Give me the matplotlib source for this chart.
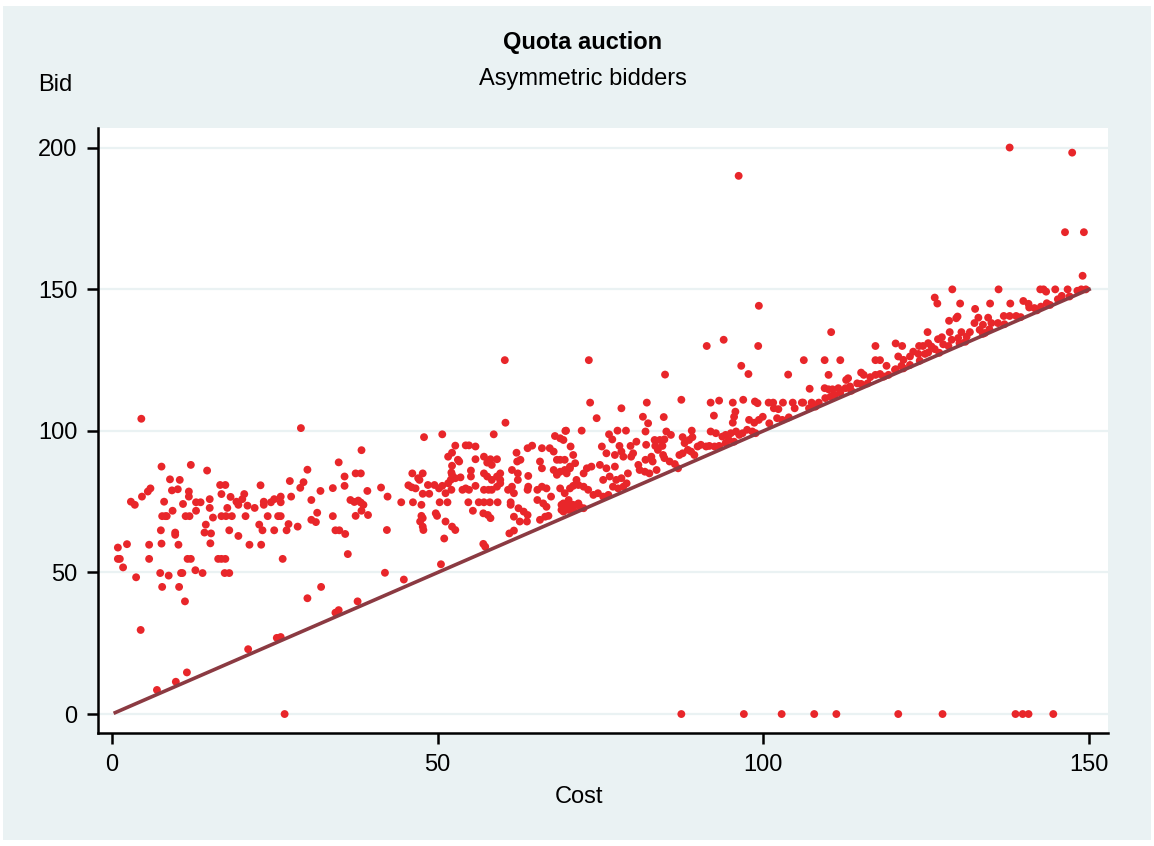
import matplotlib.pyplot as plt
from matplotlib.patches import Rectangle

plt.rcParams['font.family'] = ['Liberation Sans', 'DejaVu Sans']

# bids, grouped by region of the plot
left_pts = [
    (4.5,104.3),(29.0,101.0),(7.6,87.4),(12.1,88.0),(14.6,86.0),(8.9,82.9),(10.4,82.7),(9.2,79.0),
    (10.1,79.4),(11.8,78.6),(11.8,76.8),(5.9,79.7),(5.5,78.6),(4.6,76.8),(2.9,75.0),(3.5,73.9),
    (8.0,75.0),(12.9,74.8),(13.6,74.8),(10.9,74.2),(9.3,71.8),(12.9,71.8),(15.0,75.9),(15.0,72.8),
    (7.7,69.9),(8.2,69.9),(8.4,69.9),(11.3,69.9),(11.9,69.9),(15.5,69.4),(16.6,80.9),(17.4,80.9),
    (16.8,77.7),(18.2,76.7),(17.7,72.8),(19.1,75.0),(19.4,73.9),(20.0,75.9),(20.3,77.7),(20.8,73.6),
    (21.9,72.8),(22.8,80.8),(23.3,75.0),(23.3,73.9),(24.4,74.8),(24.9,75.9),(25.9,76.8),(25.9,74.8),
    (27.3,82.3),(27.5,76.8),(28.9,79.9),(29.4,81.9),(30.0,86.3),(30.6,75.6),(32.0,78.8),(16.8,69.9),
    (17.5,69.9),(18.4,69.9),(20.5,69.9),(23.9,69.9),(25.5,69.9),(25.9,69.9),(14.4,66.9),(14.2,64.1),
    (15.2,63.8),(15.1,60.3),(18.0,64.9),(19.4,62.9),(21.1,59.8),(22.9,59.8),(22.6,66.9),(23.1,64.9),
    (24.9,64.9),(26.8,64.9),(27.1,67.1),(28.5,66.2),(30.6,68.6),(31.3,67.8),(31.5,71.1),(33.9,79.8),
    (34.8,88.9),(33.9,69.9),(34.3,64.9),(34.9,64.9),(35.7,83.9),(35.7,80.6),(0.9,58.8),(2.3,60.0),
    (0.9,54.8),(1.2,54.8),(1.7,51.8),(3.7,48.3),(5.7,59.8),(5.7,54.8),(7.5,64.9),(7.6,60.2),
    (9.7,64.1),(9.7,63.3),(10.2,59.8),(7.4,49.8),(8.7,48.9),(10.6,49.8),(10.8,49.8),(7.7,44.9),
    (10.3,44.9),(11.2,39.8),(11.6,54.8),(12.1,54.8),(12.8,50.8),(13.9,49.8),(16.3,54.8),(16.8,54.8),
    (17.4,54.8),(17.3,49.8),(18.0,49.8),(26.2,54.8),(30.0,40.9),(32.1,44.9),(4.4,29.7),(6.9,8.5),
    (9.8,11.4),(11.5,14.7),(20.9,22.9),(25.3,26.9),(25.9,27.2),(34.3,35.8),(34.8,36.7),(35.8,63.6),
    (36.2,56.5),
]
mid_pts = [
    (38.3,93.2),(37.4,85.0),(38.2,85.0),(39.2,78.8),(36.6,75.6),(37.2,74.9),(37.8,75.4),(38.2,74.7),
    (38.6,73.9),(38.3,71.8),(37.4,70.0),(39.3,70.3),(41.3,80.0),(42.3,76.8),(42.2,65.0),(41.9,49.9),
    (44.8,47.5),(37.7,39.8),(50.5,52.9),(47.9,97.8),(50.7,98.8),(60.4,102.9),(58.6,98.8),(44.4,74.8),
    (46.1,85.0),(47.7,85.0),(47.0,83.3),(47.2,82.7),(45.5,80.8),(46.0,80.1),(46.6,79.7),(46.2,74.8),
    (47.5,73.9),(47.7,77.8),(48.5,80.9),(48.7,77.8),(47.5,70.0),(47.7,69.2),(47.3,68.0),(47.7,66.2),
    (47.8,65.0),(49.7,70.9),(49.9,70.0),(51.2,68.0),(52.2,66.2),(52.7,65.0),(51.0,62.0),(50.3,74.8),
    (51.5,74.8),(49.5,80.9),(50.2,79.7),(50.7,80.6),(51.2,78.0),(52.0,82.7),(52.2,84.5),(52.1,85.3),
    (52.7,83.3),(53.5,83.6),(51.6,90.9),(52.2,92.3),(52.7,94.8),(53.1,89.8),(53.3,89.2),(52.2,87.7),
    (51.6,81.5),(52.1,79.2),(53.8,79.2),(54.3,79.7),(54.8,79.2),(55.8,80.6),(54.3,94.9),(54.8,94.9),
    (55.8,94.5),(55.1,86.0),(55.1,83.9),(55.8,90.0),(57.1,90.9),(57.6,88.8),(58.1,90.0),(59.1,90.0),
    (58.3,88.0),(57.1,85.0),(57.6,83.9),(58.3,82.7),(59.1,83.9),(59.6,85.0),(59.6,82.7),(57.1,79.2),
    (57.8,79.2),(58.3,79.2),(59.1,80.3),(59.6,81.5),(54.7,74.8),(56.3,74.8),(57.1,74.8),(58.0,74.8),
    (59.2,74.8),(55.4,71.8),(57.0,70.9),(57.7,70.3),(58.1,69.2),(57.0,60.1),(57.3,59.1),(61.0,63.8),
    (61.7,64.8),(61.4,86.2),(62.2,89.2),(62.7,89.8),(62.1,92.3),(62.3,85.0),(62.3,82.7),(60.8,79.2),
    (61.4,80.3),(61.7,78.0),(61.2,73.9),(61.2,74.8),(62.4,72.7),(63.2,71.5),(61.7,69.7),(62.6,68.0),
    (63.7,68.0),(63.8,70.3),(63.8,79.2),(63.9,80.3),(63.9,84.1),(63.8,93.9),(64.5,94.8),(66.0,93.9),
    (65.7,89.2),(66.0,86.8),(65.3,79.2),(66.0,80.3),(66.7,79.7),(65.3,75.6),(66.2,74.4),(66.7,73.2),
    (67.4,76.8),(65.7,68.6),(66.5,69.7),(67.0,70.0),(67.2,93.9),(67.8,92.7),(68.0,98.2),(68.8,97.4),
    (69.3,96.8),(69.6,100.0),(68.3,89.8),(68.8,89.8),(67.8,86.2),(68.3,84.5),(68.8,85.6),(69.5,86.2),
    (70.3,87.4),(69.5,89.8),(70.4,94.5),(70.8,91.5),(68.8,79.7),(69.5,78.0),(70.3,79.7),(70.8,80.6),
    (69.0,73.9),(69.8,74.4),(70.7,73.2),(69.3,71.5),(70.1,72.1),(70.8,72.1),(60.3,125.0),
]
upper_pts = [
    (91.3,130.0),(99.2,130.0),(93.9,132.2),(73.2,125.0),(84.9,119.9),(96.6,123.0),(97.7,120.1),
    (103.8,119.9),(106.2,125.0),(73.4,110.0),(74.4,104.5),(78.2,108.0),(82.1,110.0),(81.5,105.0),
    (82.3,102.7),(84.7,104.9),(87.4,111.0),(91.9,110.0),(93.2,110.7),(95.3,110.0),(96.9,111.0),
    (98.7,110.4),(99.1,109.8),(100.8,110.0),(101.5,110.0),(103.0,110.0),(104.5,110.0),(105.9,110.0),
    (101.6,108.0),(102.3,107.7),(104.8,108.0),(92.4,105.4),(95.7,106.8),(95.5,105.0),(95.3,102.9),
    (97.8,103.9),(98.6,102.9),(99.3,103.9),(99.9,105.0),(100.9,102.7),(102.1,104.5),(102.9,103.9),
    (69.7,100.1),(72.1,100.1),(77.6,100.1),(78.9,100.1),(81.9,99.8),(76.3,98.8),(76.8,97.0),
    (80.5,96.2),(79.6,94.7),(75.2,94.5),(77.9,94.7),(78.2,92.7),(78.5,90.9),(82.0,95.1),(83.3,96.8),
    (84.1,96.8),(84.8,97.0),(85.1,99.8),(85.8,98.6),(87.6,97.8),(89.0,100.1),(89.1,97.8),(83.4,94.7),
    (84.5,94.7),(83.8,93.3),(84.6,91.5),(81.9,89.8),(82.8,90.9),(83.0,89.2),(80.8,88.0),(81.0,86.2),
    (81.8,85.6),(82.5,85.0),(83.6,86.2),(84.8,90.4),(85.6,89.2),(86.4,88.3),(86.9,86.8),(87.1,91.5),
    (87.6,92.1),(88.4,93.3),(88.9,92.7),(89.4,91.5),(89.9,94.5),(90.4,95.1),(91.2,94.5),(91.7,94.7),
    (92.5,94.5),(93.2,94.7),(94.2,95.7),(93.7,98.0),(94.2,98.6),(95.0,99.2),(95.8,99.8),(91.9,99.8),
    (92.7,99.2),(96.3,98.6),(96.8,99.2),(97.5,100.4),(98.3,99.8),(98.8,99.2),(94.7,96.8),(95.5,96.2),
    (88.6,96.8),(87.9,95.7),(74.9,88.0),(75.9,86.8),(77.2,87.4),(75.4,82.7),(76.4,83.9),(77.4,82.7),
    (78.2,83.3),(76.9,80.3),(77.7,79.7),(78.5,80.3),(79.0,81.5),(79.2,85.0),(72.4,80.3),(73.1,79.2),
    (73.9,77.4),(74.6,78.0),(73.6,87.4),(72.9,86.8),(72.4,85.0),(71.3,82.7),(71.6,80.9),(75.4,76.8),
    (76.2,77.4),(69.8,85.0),(70.3,86.8),(71.1,88.6),(69.3,74.4),(70.1,75.6),(70.8,73.9),(71.6,74.4),
    (69.0,72.1),(69.8,72.7),(71.8,73.2),(72.4,72.7),(79.7,90.9),(80.0,92.1),(77.2,91.5),(75.9,92.1),
    (96.2,190.1),(99.3,144.2),
]
right_pts = [
    (137.8,200.1),(147.4,198.3),(146.3,170.2),(149.2,170.2),(149.0,154.8),(110.4,134.9),(126.3,147.1),
    (126.7,145.0),(129.0,150.0),(136.1,150.0),(142.5,150.0),(143.0,150.0),(143.4,149.2),(144.8,150.0),
    (146.7,150.0),(148.2,149.5),(148.8,150.0),(130.2,145.0),(132.5,143.1),(134.8,145.0),(137.9,145.0),
    (139.9,145.9),(140.7,144.9),(140.8,143.6),(143.5,145.1),(145.2,146.5),(145.8,147.7),(128.5,138.9),
    (129.8,140.4),(129.6,139.8),(133.0,140.0),(134.5,140.0),(136.9,140.6),(137.8,140.6),(138.8,140.6),
    (136.0,138.1),(141.6,143.4),(142.6,143.9),(125.2,134.9),(126.8,132.4),(127.4,133.1),(128.6,134.9),
    (130.4,134.9),(131.7,134.9),(133.2,135.7),(133.7,134.3),(129.9,132.8),(131.2,133.3),(134.7,135.9),
    (117.2,130.0),(120.3,130.9),(121.3,130.0),(123.9,130.0),(124.5,130.0),(125.3,131.0),(125.8,129.8),
    (126.3,128.9),(127.6,130.6),(128.4,130.0),(109.4,125.0),(111.8,125.0),(117.2,125.0),(117.9,125.0),
    (118.9,123.0),(120.7,126.3),(121.5,125.1),(122.5,126.3),(123.0,128.0),(123.8,127.2),(124.8,127.2),
    (125.3,127.7),(120.3,121.8),(121.2,123.0),(122.5,123.3),(110.0,119.8),(107.1,114.9),(109.4,115.1),
    (110.0,114.7),(110.6,114.7),(111.5,115.1),(112.7,118.0),(113.0,118.6),(115.0,120.6),(115.4,119.8),
    (116.4,119.0),(117.2,119.8),(117.9,120.1),(119.2,119.8),(120.2,121.6),(115.0,116.6),(114.4,116.8),
    (109.5,111.6),(110.3,112.1),(111.0,112.7),(111.8,113.5),(112.6,115.1),(113.3,115.7),(106.1,110.0),
    (107.4,110.0),(103.9,104.8),(107.0,108.0),(108.0,108.6),(108.5,110.0),(132.4,138.1),(133.7,137.5),
    (135.0,138.1),(128.9,132.2),(130.1,131.0),(113.5,114.2),(116.0,116.8),(118.5,119.2),(121.5,122.1),
    (124.0,124.8),(127.0,127.6),(131.0,131.5),(134.0,134.6),(137.0,137.7),(139.5,140.2),(142.0,142.6),
    (144.0,144.5),(147.0,147.5),(149.5,150.0),
]
zero_cost = [26.5, 87.4, 97.0, 102.8, 107.8, 111.2, 120.7, 127.5, 138.7, 139.8, 140.7, 144.5]

line_x = [0.5, 150]
yticks = [0, 50, 100, 150, 200]
xticks = [0, 50, 100, 150]

pts = left_pts + mid_pts + upper_pts + right_pts + [(c, 0) for c in zero_cost]
cost = [p[0] for p in pts]
bid = [p[1] for p in pts]

bg = '#eaf2f3'
fig = plt.figure(figsize=(11.54, 8.46), dpi=100, facecolor='white')
fig.patches.append(Rectangle((3/1154, 6/846), 1148/1154, 834/846, transform=fig.transFigure,
                             facecolor=bg, edgecolor='none', zorder=-10))
ax = fig.add_axes([98/1154, 1 - 733/846, 1010/1154, 605/846])
ax.set_facecolor('white')

ax.scatter(cost, bid, s=32, color='#e8262a', edgecolors='none', zorder=3)
ax.plot(line_x, line_x, color='#8b3a42', lw=2.6, zorder=4)

ax.set_xlim(-2.15, 152.9)
ax.set_ylim(-6.7, 207)
ax.set_yticks(yticks)
ax.set_xticks(xticks)
ax.grid(axis='y', color=bg, lw=1.6, zorder=0)
ax.set_axisbelow(True)
for s in ['top', 'right']:
    ax.spines[s].set_visible(False)
for s in ['left', 'bottom']:
    ax.spines[s].set_linewidth(1.8)
ax.tick_params(length=8, width=1.8, labelsize=17, pad=7)

fig.text(0.505, 0.950, 'Quota auction', ha='center', va='center', fontsize=17, fontweight='bold')
fig.text(0.505, 0.907, 'Asymmetric bidders', ha='center', va='center', fontsize=17)
fig.text(0.048, 0.899, 'Bid', ha='center', va='center', fontsize=17)
fig.text(0.502, 0.058, 'Cost', ha='center', va='center', fontsize=17)

fig.savefig('out.png', dpi=100, facecolor=fig.get_facecolor())
